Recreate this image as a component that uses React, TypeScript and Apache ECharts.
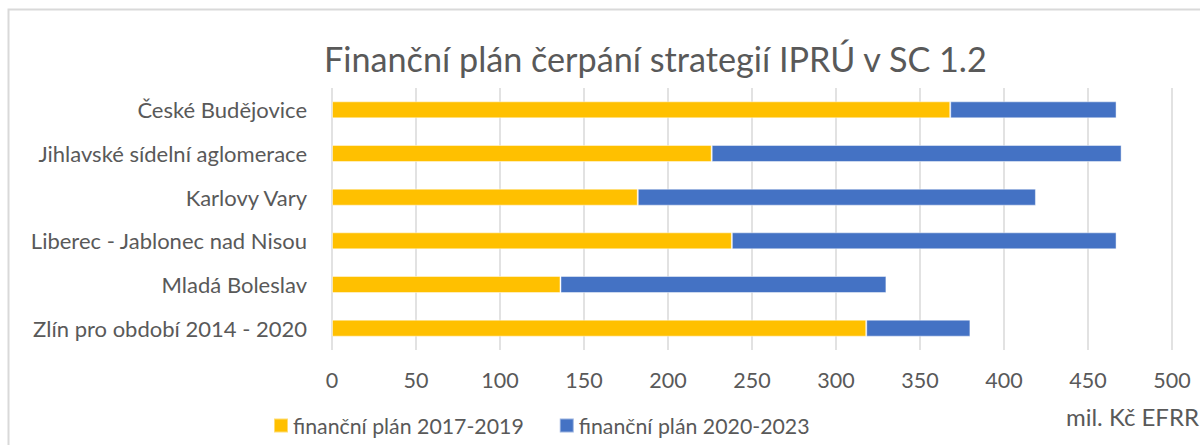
import React, { useEffect, useRef } from "react";
import * as echarts from "echarts";

const categories = [
  "České Budějovice",
  "Jihlavské sídelní aglomerace",
  "Karlovy Vary",
  "Liberec - Jablonec nad Nisou",
  "Mladá Boleslav",
  "Zlín pro období 2014 - 2020",
];
const plan2017 = [368, 226, 182, 238, 136, 318];
const plan2020 = [99, 244, 237, 229, 194, 62];
const seriesNames = ["finanční plán 2017-2019", "finanční plán 2020-2023"];
const titleText = "Finanční plán čerpání strategií IPRÚ v SC 1.2";
const unitText = "mil. Kč EFRR";

const FONT = "Lato, 'Open Sans', sans-serif";
const TXT = "#595959";

export default function App() {
  const ref = useRef<HTMLDivElement>(null);
  useEffect(() => {
    if (!ref.current) return;
    const chart = echarts.init(ref.current, null, { renderer: "svg" });
    chart.setOption({
      animation: false,
      textStyle: { fontFamily: FONT },
      title: {
        text: titleText,
        left: 319,
        top: 36,
        textStyle: { fontFamily: FONT, fontSize: 34.2, fontWeight: "normal", color: TXT },
      },
      legend: {
        left: 268,
        top: 410,
        itemWidth: 14,
        itemHeight: 14,
        itemGap: 35,
        icon: "rect",
        textStyle: { fontFamily: FONT, fontSize: 21.3, color: TXT },
        data: seriesNames,
      },
      grid: { left: 332, right: 28, top: 88, bottom: 95, containLabel: false },
      xAxis: {
        type: "value",
        min: 0,
        max: 500,
        interval: 50,
        axisLine: { show: false },
        axisTick: { show: false },
        splitLine: { lineStyle: { color: "#D9D9D9", width: 1.5 } },
        axisLabel: { fontFamily: FONT, fontSize: 21.5, color: TXT, margin: 19 },
      },
      yAxis: {
        type: "category",
        inverse: true,
        data: categories,
        axisLine: { show: false },
        axisTick: { show: false },
        axisLabel: { fontFamily: FONT, fontSize: 22, color: TXT, margin: 25 },
      },
      graphic: [
        {
          type: "rect",
          shape: { x: 8.5, y: 9.5, width: 1400, height: 600 },
          style: { fill: "none", stroke: "#D9D9D9", lineWidth: 2 },
          silent: true,
          z: -10,
        },
        {
          type: "text",
          right: 1,
          top: 404,
          style: { text: unitText, fontFamily: FONT, fontSize: 24, fill: TXT },
        },
      ],
      series: [
        {
          name: seriesNames[0],
          type: "bar",
          stack: "total",
          barWidth: 17,
          data: plan2017,
          itemStyle: { color: "#FFC000", borderColor: "rgba(255,255,255,0.45)", borderWidth: 1 },
        },
        {
          name: seriesNames[1],
          type: "bar",
          stack: "total",
          barWidth: 17,
          data: plan2020,
          itemStyle: { color: "#4472C4", borderColor: "rgba(255,255,255,0.45)", borderWidth: 1 },
        },
      ],
    });
    return () => chart.dispose();
  }, []);
  return (
    <div
      ref={ref}
      style={{ position: "fixed", left: 0, top: 0, width: 1200, height: 445, background: "#fff" }}
    />
  );
}
